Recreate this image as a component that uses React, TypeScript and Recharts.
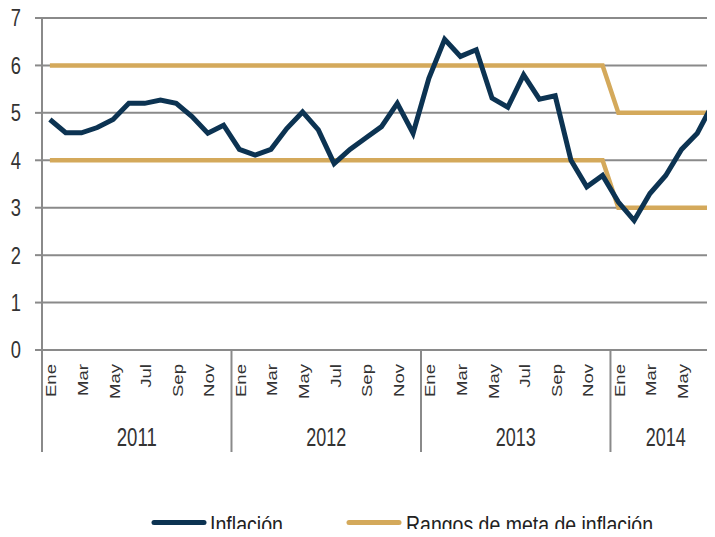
import React from 'react';
import {
  LineChart,
  Line,
  XAxis,
  YAxis,
  CartesianGrid,
  Legend,
} from 'recharts';

// Month labels (Spanish) and years covered
const months = ['Ene', 'Feb', 'Mar', 'Abr', 'May', 'Jun', 'Jul', 'Ago', 'Sep', 'Oct', 'Nov', 'Dic'];
const years = [2011, 2012, 2013, 2014];
const monthsPerYear = [12, 12, 12, 7];

// Monthly inflation, Ene 2011 - Jul 2014
const inflation = [
  4.86, 4.58, 4.58, 4.69, 4.86, 5.2, 5.2, 5.27, 5.2, 4.92, 4.57, 4.74,
  4.23, 4.11, 4.23, 4.67, 5.02, 4.64, 3.93, 4.23, 4.47, 4.71, 5.2, 4.57,
  5.73, 6.55, 6.19, 6.33, 5.31, 5.12, 5.8, 5.29, 5.36, 4.0, 3.44, 3.68,
  3.12, 2.73, 3.3, 3.68, 4.23, 4.57, 5.2,
];

// Target range, upper and lower bounds
const targetUpper = [
  6, 6, 6, 6, 6, 6, 6, 6, 6, 6, 6, 6,
  6, 6, 6, 6, 6, 6, 6, 6, 6, 6, 6, 6,
  6, 6, 6, 6, 6, 6, 6, 6, 6, 6, 6, 6,
  5, 5, 5, 5, 5, 5, 5,
];
const targetLower = [
  4, 4, 4, 4, 4, 4, 4, 4, 4, 4, 4, 4,
  4, 4, 4, 4, 4, 4, 4, 4, 4, 4, 4, 4,
  4, 4, 4, 4, 4, 4, 4, 4, 4, 4, 4, 4,
  3, 3, 3, 3, 3, 3, 3,
];

const yTicks = [0, 1, 2, 3, 4, 5, 6, 7];

const NAVY = '#0c3352';
const GOLD = '#d4a95b';
const GRID = '#8a8a8a';
const TEXT = '#333';
const FONT = '"Liberation Sans", Arial, sans-serif';

const CHART_W = 724;
const CHART_H = 537;
const Y_AXIS_W = 42;
const MARGIN = { top: 18, right: 3, left: 0, bottom: 85 };
const PLOT_W = CHART_W - MARGIN.left - MARGIN.right - Y_AXIS_W;
const BAND = PLOT_W / inflation.length;

const data = inflation.map((v, i) => ({
  idx: i,
  month: months[i % 12],
  year: years[Math.floor(i / 12)],
  inflation: v,
  upper: targetUpper[i],
  lower: targetLower[i],
}));

const yearStarts = years.map((_, k) => k * 12);

// the source text is tall and narrow, so glyphs get stretched a bit
const YTick = (props: any) => {
  const { x, y, payload } = props;
  return (
    <text
      transform={`translate(${x},${y}) scale(0.78,1)`}
      textAnchor="end"
      dominantBaseline="central"
      fontSize={23.5}
      fontFamily={FONT}
      fill={TEXT}
    >
      {payload.value}
    </text>
  );
};

const MonthTick = (props: any) => {
  const { x, payload } = props;
  const d = data[payload.value];
  if (!d) return null;
  return (
    <text
      transform={`translate(${x + 6.5},${364}) rotate(-90) scale(1.28,1)`}
      textAnchor="end"
      fontSize={14.5}
      fontFamily={FONT}
      fill={TEXT}
    >
      {d.month}
    </text>
  );
};

const YearTick = (props: any) => {
  const { x, payload } = props;
  const k = Math.floor(payload.value / 12);
  const start = x - BAND / 2;
  const center = start + (monthsPerYear[k] * BAND) / 2;
  return (
    <g>
      <line x1={start} x2={start} y1={350} y2={452} stroke={GRID} strokeWidth={2} />
      <text
        x={center - 20}
        y={446}
        textLength={40}
        lengthAdjust="spacingAndGlyphs"
        fontSize={26}
        fontFamily={FONT}
        fill={TEXT}
      >
        {years[k]}
      </text>
    </g>
  );
};

const LegendContent = () => (
  <svg width={715} height={30} style={{ display: 'block' }}>
    <line x1={154} x2={204} y1={15.5} y2={15.5} stroke={NAVY} strokeWidth={5} strokeLinecap="round" />
    <text x={210} y={25.5} textLength={73} lengthAdjust="spacingAndGlyphs" fontSize={24} fontFamily={FONT} fill="#222">
      Inflación
    </text>
    <line x1={349} x2={399} y1={15.5} y2={15.5} stroke={GOLD} strokeWidth={5} strokeLinecap="round" />
    <text x={406} y={25.5} textLength={247} lengthAdjust="spacingAndGlyphs" fontSize={24} fontFamily={FONT} fill="#222">
      Rangos de meta de inflación
    </text>
  </svg>
);

const App: React.FC = () => {
  return (
    <div style={{ margin: -8, width: 715, height: 537, overflow: 'hidden', background: '#fff' }}>
      <LineChart width={CHART_W} height={CHART_H} data={data} margin={MARGIN}>
        <CartesianGrid horizontal vertical={false} stroke={GRID} strokeWidth={2} />
        <XAxis
          dataKey="idx"
          type="category"
          height={60}
          interval={1}
          padding={{ left: BAND / 2, right: BAND / 2 }}
          axisLine={{ stroke: GRID, strokeWidth: 2 }}
          tickLine={false}
          tick={<MonthTick />}
        />
        <XAxis
          xAxisId="year"
          dataKey="idx"
          type="category"
          height={42}
          ticks={yearStarts}
          interval={0}
          padding={{ left: BAND / 2, right: BAND / 2 }}
          axisLine={false}
          tickLine={false}
          tick={<YearTick />}
        />
        <YAxis
          domain={[0, 7]}
          ticks={yTicks}
          interval={0}
          width={Y_AXIS_W}
          axisLine={{ stroke: GRID, strokeWidth: 2 }}
          tickLine={{ stroke: GRID, strokeWidth: 2 }}
          tickSize={7}
          tickMargin={14}
          tick={<YTick />}
        />
        <Legend
          verticalAlign="middle"
          layout="horizontal"
          wrapperStyle={{ top: 507, left: 0, width: 715 }}
          content={<LegendContent />}
        />
        <Line
          type="linear"
          dataKey="upper"
          stroke={GOLD}
          strokeWidth={4.5}
          dot={false}
          isAnimationActive={false}
        />
        <Line
          type="linear"
          dataKey="lower"
          stroke={GOLD}
          strokeWidth={4.5}
          dot={false}
          isAnimationActive={false}
        />
        <Line
          type="linear"
          dataKey="inflation"
          stroke={NAVY}
          strokeWidth={5}
          dot={false}
          isAnimationActive={false}
        />
      </LineChart>
    </div>
  );
};

export default App;
